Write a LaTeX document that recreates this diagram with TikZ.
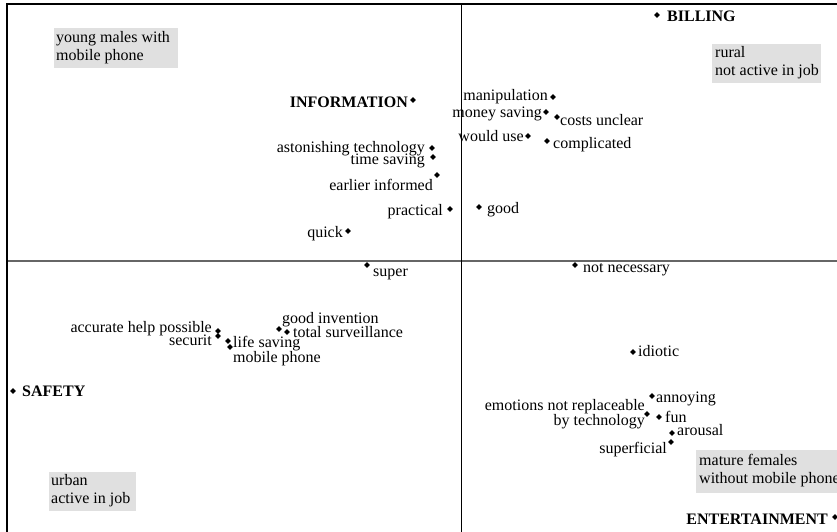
\documentclass[tikz,border=0pt]{standalone}
\usepackage{fontspec}
\setmainfont{Liberation Serif}
\usetikzlibrary{shapes.geometric}
\begin{document}
\begin{tikzpicture}[x=1pt,y=-1pt,
  dot/.style={diamond,fill=black,inner sep=0pt,minimum size=6pt},
  lab/.style={inner sep=0pt,font=\fontsize{16}{18}\selectfont},
  axlab/.style={lab,font=\fontsize{16}{18}\selectfont\bfseries},
  grpbox/.style={fill=black!12,inner sep=0pt,anchor=north west},
  grptext/.style={inner sep=0pt,align=left,anchor=north west,
    font=\fontsize{16}{18}\selectfont}]
\useasboundingbox (0,0) rectangle (837,532);
\fill[white] (0,0) rectangle (837,532);

% frame and axes
\draw[line width=1.4pt,black!60] (7,261) -- (837,261);
\draw[line width=1.4pt] (7,532) -- (7,4) -- (837,4);
\draw[line width=1.4pt] (461.5,4) -- (461.5,532);

% group boxes
\node[grpbox,minimum width=124pt,minimum height=40pt] (young) at (54,28) {};
\node[grptext] (youngT) at (56,31) {young males with\\mobile phone};
\node[grpbox,minimum width=109pt,minimum height=39pt] (rural) at (712,44) {};
\node[grptext] (ruralT) at (715,46) {rural\\not active in job};
\node[grpbox,minimum width=87pt,minimum height=39pt] (urban) at (49,472) {};
\node[grptext] (urbanT) at (51,474) {urban\\active in job};
\node[grpbox,minimum width=150pt,minimum height=43pt] (mature) at (696,450) {};
\node[grptext] (matureT) at (699,454) {mature females\\without mobile phone};

% dimensions
\node[dot] (info) at (413,100) {};
\node[axlab,anchor=mid east] (infoL) at (408,105) {INFORMATION};
\node[dot] (bill) at (657,15) {};
\node[axlab,anchor=mid west] (billL) at (667,19) {BILLING};
\node[dot] (safe) at (13,391) {};
\node[axlab,anchor=mid west] (safeL) at (22,394) {SAFETY};
\node[dot] (ent) at (835,517) {};
\node[axlab,anchor=mid east] (entL) at (828,522) {ENTERTAINMENT};

% attributes, upper left
\node[dot] (ast) at (432,148) {};
\node[lab,anchor=mid east] (astL) at (425,150) {astonishing technology};
\node[dot] (time) at (433,157) {};
\node[lab,anchor=mid east] (timeL) at (425,162) {time saving};
\node[dot] (earl) at (437,175) {};
\node[lab,anchor=mid east] (earlL) at (433,188) {earlier informed};
\node[dot] (prac) at (450,209) {};
\node[lab,anchor=mid east] (pracL) at (443,213) {practical};
\node[dot] (quick) at (348,231) {};
\node[lab,anchor=mid east] (quickL) at (343,235) {quick};

% attributes, upper right
\node[dot] (manip) at (553,97) {};
\node[lab,anchor=mid east] (manipL) at (548,98) {manipulation};
\node[dot] (money) at (546,112) {};
\node[lab,anchor=mid east] (moneyL) at (542,115) {money saving};
\node[dot] (costs) at (557,117) {};
\node[lab,anchor=mid west] (costsL) at (560,123) {costs unclear};
\node[dot] (would) at (528,136) {};
\node[lab,anchor=mid east] (wouldL) at (524,139) {would use};
\node[dot] (compl) at (547,141) {};
\node[lab,anchor=mid west] (complL) at (553,146) {complicated};
\node[dot] (good) at (479,207) {};
\node[lab,anchor=mid west] (goodL) at (487,211) {good};

% attributes, lower left
\node[dot] (super) at (367,265) {};
\node[lab,anchor=mid west] (superL) at (373,274) {super};
\node[dot] (accu) at (218,331) {};
\node[lab,anchor=mid east] (accuL) at (212,330) {accurate help possible};
\node[dot] (sec) at (218,336) {};
\node[lab,anchor=mid east] (secL) at (212,343) {securit};
\node[dot] (life) at (228,341) {};
\node[lab,anchor=mid west] (lifeL) at (233,345) {life saving};
\node[dot] (mob) at (230,347) {};
\node[lab,anchor=mid west] (mobL) at (233,360) {mobile phone};
\node[dot] (inv) at (279,329) {};
\node[lab,anchor=mid west] (invL) at (282,321) {good invention};
\node[dot] (surv) at (287,332) {};
\node[lab,anchor=mid west] (survL) at (293,335) {total surveillance};

% attributes, lower right
\node[dot] (notn) at (575,265) {};
\node[lab,anchor=mid west] (notnL) at (583,270) {not necessary};
\node[dot] (idio) at (633,352) {};
\node[lab,anchor=mid west] (idioL) at (638,354) {idiotic};
\node[dot] (anno) at (652,396) {};
\node[lab,anchor=mid west] (annoL) at (656,400) {annoying};
\node[dot] (emo) at (647,414) {};
\node[lab,align=right,anchor=east,font=\fontsize{16}{15}\selectfont] (emoL) at (645,414) {emotions not replaceable\\by technology};
\node[dot] (fun) at (659,417) {};
\node[lab,anchor=mid west] (funL) at (665,420) {fun};
\node[dot] (arou) at (672,433) {};
\node[lab,anchor=mid west] (arouL) at (677,433) {arousal};
\node[dot] (supf) at (671,442) {};
\node[lab,anchor=mid east] (supfL) at (667,451) {superficial};
\end{tikzpicture}
\end{document}
